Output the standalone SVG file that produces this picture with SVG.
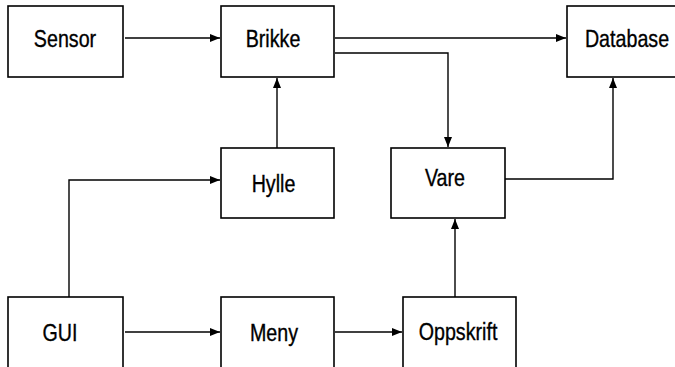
<svg xmlns="http://www.w3.org/2000/svg" width="675" height="367" viewBox="0 0 675 367">
  <style>
    .box { fill: #ffffff; stroke: #000000; stroke-width: 1.6; }
    .lbl { font-family: "Liberation Sans", Arial, sans-serif; font-size: 24px; fill: #000000; stroke: #000000; stroke-width: 0.35; text-anchor: middle; }
    .edge { fill: none; stroke: #000000; stroke-width: 1.4; }
  </style>
  <defs>
    <marker id="arrow" markerUnits="userSpaceOnUse" markerWidth="10" markerHeight="10" viewBox="0 0 10 10" refX="10" refY="5" orient="auto">
      <path d="M0,1 L10,5 L0,9 Z" fill="#000000"/>
    </marker>
  </defs>
  <rect width="675" height="367" fill="#ffffff"/>

  <g id="connectors">
    <path class="edge" d="M125,38 H220" marker-end="url(#arrow)"/>
    <path class="edge" d="M335,38 H566" marker-end="url(#arrow)"/>
    <path class="edge" d="M335,53 H448 V147" marker-end="url(#arrow)"/>
    <path class="edge" d="M277,148 V78" marker-end="url(#arrow)"/>
    <path class="edge" d="M69,297 V180 H220" marker-end="url(#arrow)"/>
    <path class="edge" d="M505,179 H613 V78" marker-end="url(#arrow)"/>
    <path class="edge" d="M455,297 V219" marker-end="url(#arrow)"/>
    <path class="edge" d="M125,332 H220" marker-end="url(#arrow)"/>
    <path class="edge" d="M335,332 H402" marker-end="url(#arrow)"/>
  </g>

  <g id="sensor">
    <rect class="box" x="8" y="6" width="115" height="71"/>
    <text class="lbl" transform="translate(65,46.5) scale(0.82,1)">Sensor</text>
  </g>
  <g id="brikke">
    <rect class="box" x="221" y="6" width="113" height="71"/>
    <text class="lbl" transform="translate(273,46.5) scale(0.82,1)">Brikke</text>
  </g>
  <g id="database">
    <rect class="box" x="567" y="6" width="115" height="71"/>
    <text class="lbl" transform="translate(627,46.5) scale(0.82,1)">Database</text>
  </g>
  <g id="hylle">
    <rect class="box" x="221" y="148" width="113" height="70"/>
    <text class="lbl" transform="translate(273.5,192) scale(0.82,1)">Hylle</text>
  </g>
  <g id="vare">
    <rect class="box" x="391" y="148" width="114" height="70"/>
    <text class="lbl" transform="translate(445,185.5) scale(0.82,1)">Vare</text>
  </g>
  <g id="gui">
    <rect class="box" x="8" y="297" width="115" height="75"/>
    <text class="lbl" transform="translate(60,341) scale(0.82,1)">GUI</text>
  </g>
  <g id="meny">
    <rect class="box" x="221" y="297" width="113" height="75"/>
    <text class="lbl" transform="translate(274,341) scale(0.82,1)">Meny</text>
  </g>
  <g id="oppskrift">
    <rect class="box" x="403" y="297" width="113" height="75"/>
    <text class="lbl" transform="translate(458,340) scale(0.82,1)">Oppskrift</text>
  </g>
</svg>
